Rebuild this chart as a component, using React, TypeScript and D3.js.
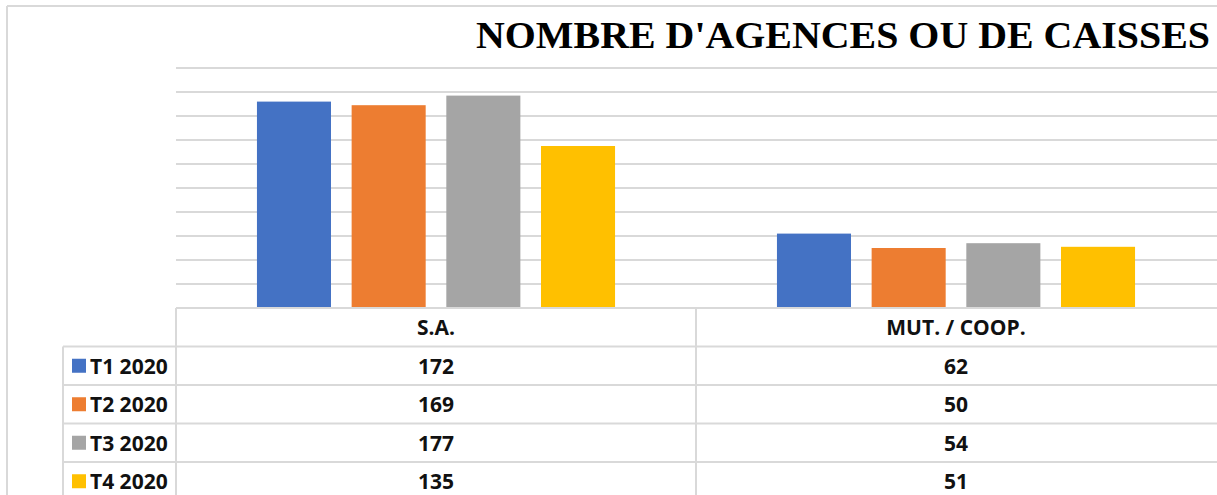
import React, { useEffect, useRef } from 'react';
import * as d3 from 'd3';

const categories = ['S.A.', 'MUT. / COOP.'];
const seriesNames = ['T1 2020', 'T2 2020', 'T3 2020', 'T4 2020'];
const seriesColors = ['#4472C4', '#ED7D31', '#A5A5A5', '#FFC000'];
// values per series, in category order
const t1 = [172, 62];
const t2 = [169, 50];
const t3 = [177, 54];
const t4 = [135, 51];
const seriesValues = [t1, t2, t3, t4];
const yTicks = [0, 20, 40, 60, 80, 100, 120, 140, 160, 180, 200];
const title = "NOMBRE D'AGENCES OU DE CAISSES";

const App = () => {
    const ref = useRef<SVGSVGElement>(null);

    useEffect(() => {
        const width = 1217;
        const height = 495;
        const svg = d3.select(ref.current);
        svg.selectAll('*').remove();
        svg.attr('width', width).attr('height', height);

        const gridColor = '#d9d9d9';
        const plotLeft = 176;
        const plotRight = 1216;
        const baseY = 308;
        const rowH = 38.5;

        // outer frame
        svg.append('line').attr('x1', 7).attr('x2', width).attr('y1', 6).attr('y2', 6)
            .attr('stroke', gridColor).attr('stroke-width', 2);
        svg.append('line').attr('x1', 7).attr('x2', 7).attr('y1', 6).attr('y2', height)
            .attr('stroke', gridColor).attr('stroke-width', 2);

        // scales
        const x0 = d3.scaleBand().domain(categories).range([plotLeft, plotRight]);
        const x1 = d3.scaleBand().domain(seriesNames)
            .range([0, x0.bandwidth()])
            .paddingInner(0.218)
            .paddingOuter(0.855);
        const y = d3.scaleLinear().domain([0, 200]).range([baseY, 68]);

        // gridlines
        svg.append('g')
            .selectAll('line')
            .data(yTicks.filter(d => d > 0))
            .enter().append('line')
            .attr('x1', plotLeft).attr('x2', width)
            .attr('y1', d => y(d)).attr('y2', d => y(d))
            .attr('stroke', gridColor).attr('stroke-width', 2);

        // title
        svg.append('text')
            .attr('x', 476).attr('y', 48)
            .attr('textLength', 734)
            .attr('lengthAdjust', 'spacingAndGlyphs')
            .attr('font-family', '"Liberation Serif", "Times New Roman", serif')
            .attr('font-weight', 'bold')
            .attr('font-size', 37)
            .attr('fill', '#000')
            .text(title);

        // bars
        seriesNames.forEach((s, i) => {
            svg.append('g')
                .selectAll('rect')
                .data(seriesValues[i])
                .enter().append('rect')
                .attr('x', (d, j) => (x0(categories[j]) as number) + (x1(s) as number))
                .attr('y', d => y(d))
                .attr('width', x1.bandwidth())
                .attr('height', d => baseY - y(d))
                .attr('fill', seriesColors[i]);
        });

        // data table
        const table = svg.append('g');
        const tableFont = '"Open Sans", Lato, sans-serif';
        const fs = 21;
        // baseline / header top
        table.append('line').attr('x1', plotLeft).attr('x2', width)
            .attr('y1', baseY).attr('y2', baseY)
            .attr('stroke', gridColor).attr('stroke-width', 2);
        // row lines
        seriesNames.forEach((s, i) => {
            const yy = baseY + rowH * (i + 1);
            table.append('line').attr('x1', 63).attr('x2', width)
                .attr('y1', yy).attr('y2', yy)
                .attr('stroke', gridColor).attr('stroke-width', 2);
        });
        // vertical lines
        table.append('line').attr('x1', 63).attr('x2', 63)
            .attr('y1', baseY + rowH).attr('y2', height)
            .attr('stroke', gridColor).attr('stroke-width', 2);
        [plotLeft, x0(categories[1]) as number].forEach(xx => {
            table.append('line').attr('x1', xx).attr('x2', xx)
                .attr('y1', baseY).attr('y2', height)
                .attr('stroke', gridColor).attr('stroke-width', 2);
        });

        // header
        table.selectAll('.hdr')
            .data(categories)
            .enter().append('text')
            .attr('class', 'hdr')
            .attr('x', d => (x0(d) as number) + x0.bandwidth() / 2)
            .attr('y', baseY + rowH / 2)
            .attr('text-anchor', 'middle')
            .attr('dominant-baseline', 'central')
            .attr('font-family', tableFont)
            .attr('font-weight', 'bold')
            .attr('font-size', fs)
            .attr('fill', '#111')
            .text(d => d);

        seriesNames.forEach((s, i) => {
            const cy = baseY + rowH * (i + 1) + rowH / 2;
            table.append('rect')
                .attr('x', 72).attr('y', cy - 7)
                .attr('width', 14).attr('height', 14)
                .attr('fill', seriesColors[i]);
            table.append('text')
                .attr('x', 90).attr('y', cy)
                .attr('dominant-baseline', 'central')
                .attr('font-family', tableFont)
                .attr('font-weight', 'bold')
                .attr('font-size', fs)
                .attr('fill', '#111')
                .text(s);
            seriesValues[i].forEach((v, j) => {
                table.append('text')
                    .attr('x', (x0(categories[j]) as number) + x0.bandwidth() / 2)
                    .attr('y', cy)
                    .attr('text-anchor', 'middle')
                    .attr('dominant-baseline', 'central')
                    .attr('font-family', tableFont)
                    .attr('font-weight', 'bold')
                    .attr('font-size', fs)
                    .attr('fill', '#111')
                    .text(v);
            });
        });
    }, []);

    return (
        <div style={{ position: 'absolute', left: 0, top: 0, background: '#fff' }}>
            <svg ref={ref} style={{ display: 'block' }}></svg>
        </div>
    );
};

export default App;
